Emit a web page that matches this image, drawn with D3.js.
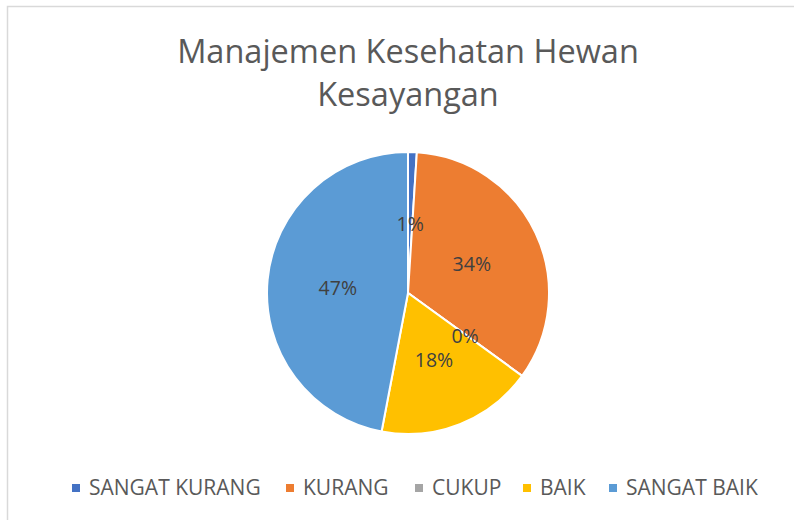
<!DOCTYPE html>
<html>
<head>
<meta charset="utf-8">
<script src="https://cdn.jsdelivr.net/npm/d3@7"></script>
<style>
  body { margin: 0; background: #fff; }
  svg { font-family: "Open Sans", "Noto Sans", sans-serif; }
</style>
</head>
<body>
<svg id="chart"></svg>
<script>
// ---------- data ----------
var categories = ["SANGAT KURANG", "KURANG", "CUKUP", "BAIK", "SANGAT BAIK"]
var values = [1, 34, 0, 18, 47]
var colors = ["#4472C4", "#ED7D31", "#A5A5A5", "#FFC000", "#5B9BD5"]
var titleLines = ["Manajemen Kesehatan Hewan", "Kesayangan"]

var screen = {width: 794, height: 520}
var center = {x: 408, y: 293}
var radius = 141

var svg = d3.select("#chart")
  .attr("width", screen.width)
  .attr("height", screen.height)

// chart frame (runs off the right and bottom edges)
svg.append("rect")
  .attr("x", 7.5).attr("y", 6.5)
  .attr("width", 820).attr("height", 540)
  .attr("fill", "#fff")
  .attr("stroke", "#d9d9d9")
  .attr("stroke-width", 1.5)

// ---------- title ----------
svg.append("g")
  .selectAll("text")
  .data(titleLines)
  .enter()
  .append("text")
  .attr("x", 408)
  .attr("y", function(d, i) { return 63 + i * 43 })
  .attr("text-anchor", "middle")
  .attr("font-size", 32.5)
  .attr("fill", "#595959")
  .text(function(d) { return d })

// ---------- pie ----------
var data = categories.map(function(c, i) { return {cat: c, value: values[i], color: colors[i]} })

var pie = d3.pie().sort(null).value(function(d) { return d.value })
var arcs = pie(data)
var total = d3.sum(values)

var arc = d3.arc().innerRadius(0).outerRadius(radius)
var labelArc = d3.arc().innerRadius(radius * 0.5).outerRadius(radius * 0.5)

var g = svg.append("g")
  .attr("transform", "translate(" + center.x + "," + center.y + ")")

g.selectAll("path")
  .data(arcs)
  .enter()
  .append("path")
  .attr("d", arc)
  .attr("fill", function(d) { return d.data.color })
  .attr("stroke", "#fff")
  .attr("stroke-width", 2)

g.selectAll("text")
  .data(arcs)
  .enter()
  .append("text")
  .attr("transform", function(d) { return "translate(" + labelArc.centroid(d) + ")" })
  .attr("text-anchor", "middle")
  .attr("dy", "0.42em")
  .attr("font-size", 19.5)
  .attr("fill", "#404040")
  .text(function(d) { return Math.round(d.data.value / total * 100) + "%" })

// ---------- legend ----------
var legendX = [76, 290, 419, 527, 613]
var legend = svg.append("g")
  .selectAll("g")
  .data(data)
  .enter()
  .append("g")
  .attr("transform", function(d, i) { return "translate(" + legendX[i] + ",488)" })

legend.append("rect")
  .attr("x", -4).attr("y", -4)
  .attr("width", 8).attr("height", 8)
  .attr("fill", function(d) { return d.color })

legend.append("text")
  .attr("x", 13)
  .attr("dy", "0.35em")
  .attr("font-size", 21)
  .attr("fill", "#595959")
  .text(function(d) { return d.cat })
</script>
</body>
</html>
